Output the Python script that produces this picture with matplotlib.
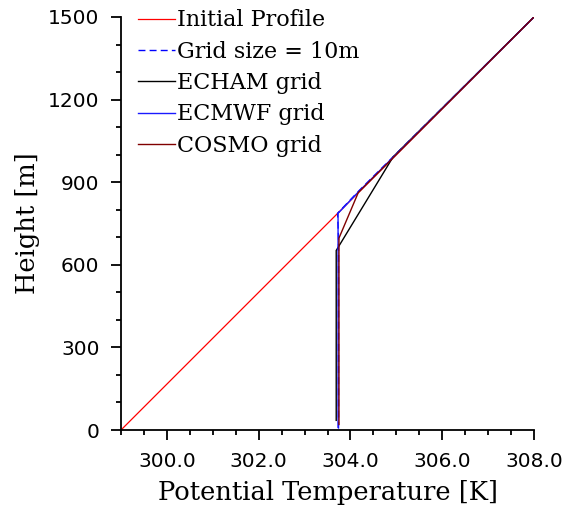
import matplotlib
matplotlib.use("Agg")
import matplotlib.pyplot as plt
from matplotlib.ticker import MultipleLocator, FormatStrFormatter

# profiles: potential temperature [K] against height [m]
init_theta = [299.0, 308.0]
init_z = [0.0, 1500.0]

grid10_theta = [303.74, 303.74, 303.72, 304.18, 308.0]
grid10_z = [5.0, 700.0, 787.0, 868.0, 1500.0]

echam_theta = [303.69, 303.69, 304.93, 308.0]
echam_z = [35.0, 652.0, 992.0, 1500.0]

ecmwf_theta = [303.73, 303.73, 304.18, 308.0]
ecmwf_z = [10.0, 787.0, 866.0, 1500.0]

cosmo_theta = [303.75, 303.75, 304.17, 308.0]
cosmo_z = [20.0, 697.0, 862.0, 1500.0]

labels = ["Initial Profile", "Grid size = 10m", "ECHAM grid", "ECMWF grid", "COSMO grid"]

fig = plt.figure(figsize=(5.66, 5.09), dpi=100)
ax = fig.add_axes([121 / 566, 79 / 509, 413 / 566, 413 / 509])

ax.plot(init_theta, init_z, color="#ff0000", lw=0.9, label=labels[0])
ax.plot(grid10_theta, grid10_z, color="#0000ff", lw=1.0, dashes=(5, 3), label=labels[1])
ax.plot(echam_theta, echam_z, color="black", lw=1.0, label=labels[2])
ax.plot(ecmwf_theta, ecmwf_z, color="#1a1aff", lw=1.0, label=labels[3])
ax.plot(cosmo_theta, cosmo_z, color="#800000", lw=1.0, label=labels[4])

ax.set_xlim(299, 308)
ax.set_ylim(0, 1500)

ax.xaxis.set_major_locator(MultipleLocator(2))
ax.xaxis.set_minor_locator(MultipleLocator(0.5))
ax.xaxis.set_major_formatter(FormatStrFormatter("%.1f"))
ax.yaxis.set_major_locator(MultipleLocator(300))
ax.yaxis.set_minor_locator(MultipleLocator(100))

for s in ["top", "right"]:
    ax.spines[s].set_visible(False)
for s in ["left", "bottom"]:
    ax.spines[s].set_linewidth(1.3)

ax.tick_params(which="major", direction="out", length=7.5, width=1.3, pad=8)
ax.tick_params(which="minor", direction="out", length=3.8, width=1.3)
for lab in ax.get_xticklabels() + ax.get_yticklabels():
    lab.set_fontfamily("DejaVu Sans")
    lab.set_fontsize(14.5)

ax.set_xlabel("Potential Temperature [K]", fontfamily="DejaVu Serif", fontsize=18.5, labelpad=7)
ax.set_ylabel("Height [m]", fontfamily="DejaVu Serif", fontsize=18.5, labelpad=6)

leg = ax.legend(loc="upper left", bbox_to_anchor=(0.02, 1.04), frameon=False,
                prop={"family": "DejaVu Serif", "size": 16}, handlelength=1.65,
                handletextpad=0.12, labelspacing=0.42, borderaxespad=0)

fig.savefig("out.png", dpi=100)
